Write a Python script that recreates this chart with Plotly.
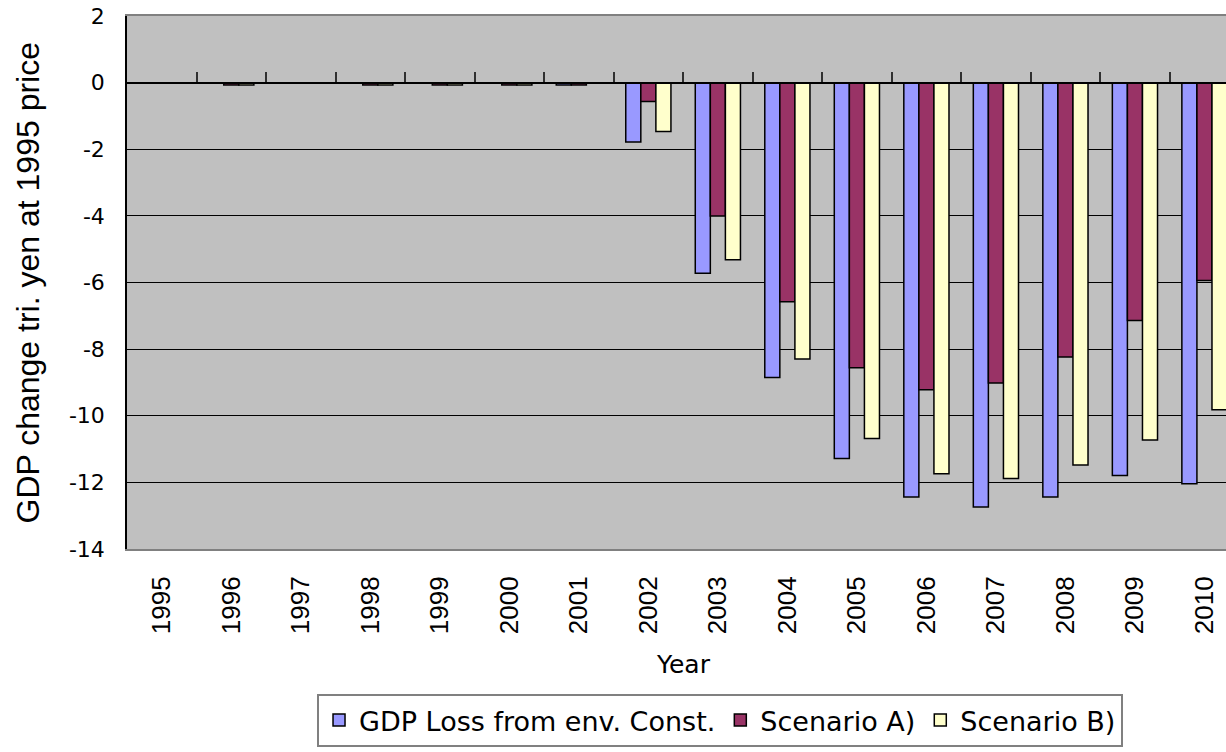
import plotly.graph_objects as go

# Annual GDP change (trillion yen, 1995 prices)
years = [str(y) for y in range(1995, 2011)]
gdp_loss = [0, 0, 0, 0, 0, 0, -0.07, -1.78, -5.72, -8.85, -11.28, -12.44, -12.74, -12.44, -11.79, -12.04]
scenario_a = [0, -0.07, 0, -0.07, -0.07, -0.07, -0.07, -0.57, -4.00, -6.58, -8.56, -9.22, -9.02, -8.24, -7.14, -5.94]
scenario_b = [0, -0.07, 0, -0.07, -0.07, -0.07, 0, -1.47, -5.32, -8.30, -10.68, -11.74, -11.88, -11.48, -10.73, -9.82]

series_names = ["GDP Loss from env. Const.", "Scenario A)", "Scenario B)"]
series_colors = ["#9999FF", "#993366", "#FFFFCC"]
y_ticks = list(range(-14, 3, 2))

SANS = "Liberation Sans, Arial, sans-serif"
WIDE = "DejaVu Sans, Verdana, sans-serif"
x_idx = list(range(len(years)))
x_range = [-0.5, 15.31]

fig = go.Figure()
for name, vals, col in zip(series_names, [gdp_loss, scenario_a, scenario_b], series_colors):
    fig.add_trace(go.Bar(
        x=x_idx, y=vals, name=name,
        marker=dict(color=col, line=dict(color="black", width=1.5)),
    ))

# helper trace carrying the category axis drawn through y = 0
fig.add_trace(go.Scatter(x=[], y=[], xaxis="x2", showlegend=False, hoverinfo="skip"))

fig.update_layout(
    width=1226, height=752,
    margin=dict(l=127, r=0, t=16, b=203, autoexpand=False),
    paper_bgcolor="white",
    plot_bgcolor="#C0C0C0",
    barmode="group",
    bargap=0.35,
    bargroupgap=0,
    font=dict(family=SANS, size=22, color="black"),
    xaxis=dict(
        range=x_range,
        tickmode="array", tickvals=x_idx, ticktext=years,
        tickangle=-90,
        ticks="",
        ticklabelstandoff=15,
        showgrid=False, zeroline=False,
        showline=True, linecolor="#808080", linewidth=2, mirror=True,
        tickfont=dict(family=SANS, size=26),
    ),
    xaxis2=dict(
        overlaying="x", anchor="free", position=0.875, side="top",
        range=x_range,
        tickmode="array", tickvals=[i + 0.5 for i in x_idx],
        ticks="outside", ticklen=10, tickcolor="#303030", tickwidth=1.5,
        showticklabels=False, showgrid=False, zeroline=False,
        showline=True, linecolor="black", linewidth=1.5,
    ),
    yaxis=dict(
        range=[-14, 2],
        tickmode="array", tickvals=y_ticks, ticktext=[str(v) for v in y_ticks],
        ticks="inside", ticklen=10, tickcolor="black", tickwidth=1,
        ticklabelstandoff=16,
        showgrid=True, gridcolor="black", gridwidth=1,
        zeroline=False,
        showline=True, linecolor="black", linewidth=1.5,
        tickfont=dict(family=WIDE, size=22),
    ),
    legend=dict(
        orientation="h",
        x=0.5396, xanchor="center",
        y=-0.272, yanchor="top",
        bgcolor="white",
        bordercolor="#808080", borderwidth=2,
        font=dict(family=WIDE, size=27),
        traceorder="normal",
    ),
    annotations=[
        dict(text="Year", xref="x", x=7.5, yref="paper", y=-0.2176,
             showarrow=False, xanchor="center", yanchor="middle",
             font=dict(family=WIDE, size=25)),
        dict(text="GDP change tri. yen at 1995 price", xref="paper", x=-0.0901,
             yref="paper", y=0.5, textangle=-90, showarrow=False,
             xanchor="center", yanchor="middle", font=dict(family=SANS, size=32)),
    ],
    showlegend=True,
)

fig.write_html("out.html")
